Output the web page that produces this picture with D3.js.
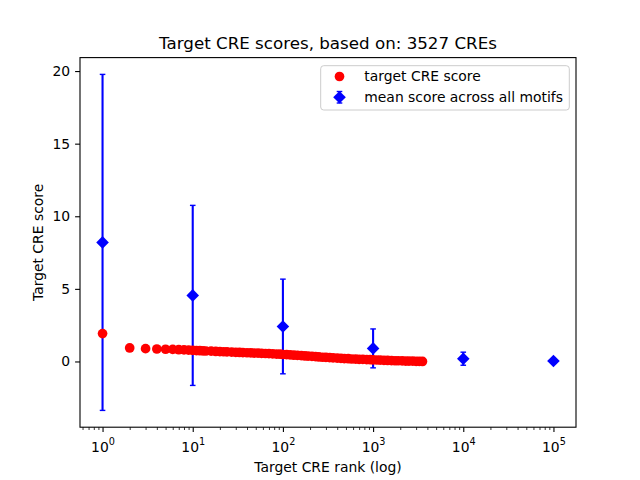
<!DOCTYPE html>
<html>
<head>
<meta charset="utf-8">
<script src="https://cdn.jsdelivr.net/npm/d3@7"></script>
<style>
  body { margin: 0; background: #fff; }
  text { font-family: "DejaVu Sans", sans-serif; fill: #000; }
</style>
</head>
<body>
<div id="chart"></div>
<script>
var svgWidth = 640;
var svgHeight = 480;

// target CRE score per rank
var ranks = [1, 2, 3, 4, 5, 6, 7, 8, 9, 10, 11, 12, 13, 14, 16, 18, 20, 22, 24, 27,
  30, 33, 36, 40, 44, 48, 53, 58, 64, 70, 77, 85, 93, 100, 110, 120, 132, 145, 160,
  175, 190, 210, 230, 250, 275, 300, 330, 360, 400, 440, 480, 530, 580, 640, 700,
  770, 850, 930, 1000, 1100, 1200, 1320, 1450, 1600, 1750, 1900, 2100, 2300, 2500,
  2750, 3000, 3250, 3527];
var scores = [1.92, 0.93, 0.88, 0.86, 0.84, 0.83, 0.81, 0.80, 0.78, 0.76, 0.75, 0.74,
  0.73, 0.72, 0.71, 0.69, 0.68, 0.67, 0.66, 0.65, 0.63, 0.62, 0.61, 0.60, 0.59, 0.58,
  0.57, 0.56, 0.55, 0.54, 0.52, 0.51, 0.50, 0.48, 0.47, 0.45, 0.43, 0.42, 0.40, 0.38,
  0.37, 0.35, 0.33, 0.31, 0.29, 0.28, 0.26, 0.25, 0.23, 0.21, 0.20, 0.19, 0.17, 0.16,
  0.15, 0.14, 0.13, 0.12, 0.11, 0.10, 0.09, 0.08, 0.07, 0.06, 0.05, 0.05, 0.04, 0.03,
  0.03, 0.02, 0.01, 0.01, 0.00];

// mean score across all motifs, with error
var meanRanks = [1, 10, 100, 1000, 10000, 100000];
var meanScores = [8.2, 4.55, 2.41, 0.9, 0.19, 0.03];
var meanErrors = [11.57, 6.2, 3.26, 1.34, 0.45, 0.05];

var xTicks = [1, 10, 100, 1000, 10000, 100000];
var yTicks = [0, 5, 10, 15, 20];

var margin = { top: 57.6, right: 64, bottom: 52.8, left: 80 };
var width = svgWidth - margin.left - margin.right;
var height = svgHeight - margin.top - margin.bottom;

var svg = d3.select("#chart")
  .append("svg")
  .attr("width", svgWidth)
  .attr("height", svgHeight);

var chartGroup = svg.append("g")
  .attr("transform", `translate(${margin.left}, ${margin.top})`);

// matplotlib style 5% padding
var lx0 = Math.log10(d3.min(meanRanks)), lx1 = Math.log10(d3.max(meanRanks));
var padX = (lx1 - lx0) * 0.05;
var xScale = d3.scaleLog()
  .domain([Math.pow(10, lx0 - padX), Math.pow(10, lx1 + padX)])
  .range([0, width]);

var yMin = d3.min(meanScores.map((d, i) => d - meanErrors[i]));
var yMax = d3.max(meanScores.map((d, i) => d + meanErrors[i]));
var padY = (yMax - yMin) * 0.05;
var yScale = d3.scaleLinear()
  .domain([yMin - padY, yMax + padY])
  .range([height, 0]);

// minor ticks
var minorTicks = [];
for (var k = -1; k <= 5; k++) {
  for (var m = 2; m <= 9; m++) {
    var v = m * Math.pow(10, k);
    if (v >= xScale.domain()[0] && v <= xScale.domain()[1]) minorTicks.push(v);
  }
}

chartGroup.append("g")
  .attr("transform", `translate(0, ${height})`)
  .call(d3.axisBottom(xScale).tickValues(minorTicks).tickSize(2.8).tickFormat(""))
  .call(g => g.select(".domain").remove())
  .call(g => g.selectAll("line").attr("stroke-width", 0.8));

var bottomAxis = chartGroup.append("g")
  .attr("transform", `translate(0, ${height})`)
  .call(d3.axisBottom(xScale).tickValues(xTicks).tickSize(4.9).tickSizeOuter(0));
bottomAxis.select(".domain").remove();
bottomAxis.selectAll("line").attr("stroke-width", 1.1);
bottomAxis.selectAll(".tick text").each(function(d) {
  var t = d3.select(this);
  t.text(null).attr("dy", null).attr("y", 24.8).attr("font-size", "13.9px");
  t.append("tspan").text("10");
  t.append("tspan").text(Math.round(Math.log10(d)))
    .attr("font-size", "9.7px").attr("dy", "-7.2");
});

var leftAxis = chartGroup.append("g")
  .call(d3.axisLeft(yScale).tickValues(yTicks).tickSize(4.9).tickPadding(4.9));
leftAxis.select(".domain").remove();
leftAxis.selectAll("line").attr("stroke-width", 1.1);
leftAxis.selectAll(".tick text").attr("font-size", "13.9px").attr("font-family", "DejaVu Sans");

// error bars
var errGroup = chartGroup.append("g");
meanRanks.forEach(function(r, i) {
  var x = xScale(r);
  var y0 = yScale(meanScores[i] - meanErrors[i]);
  var y1 = yScale(meanScores[i] + meanErrors[i]);
  errGroup.append("line").attr("x1", x).attr("x2", x).attr("y1", y0).attr("y2", y1)
    .attr("stroke", "#0000ff").attr("stroke-width", 2.1);
  [y0, y1].forEach(function(yc) {
    errGroup.append("line").attr("x1", x - 2.8).attr("x2", x + 2.8)
      .attr("y1", yc).attr("y2", yc)
      .attr("stroke", "#0000ff").attr("stroke-width", 1.4);
  });
});

var diamond = "M0,-6.3L6.3,0L0,6.3L-6.3,0Z";
errGroup.selectAll(".mean")
  .data(meanRanks)
  .enter()
  .append("path")
  .attr("d", diamond)
  .attr("transform", (d, i) => `translate(${xScale(d)}, ${yScale(meanScores[i])})`)
  .attr("fill", "#0000ff");

chartGroup.selectAll(".dot")
  .data(ranks)
  .enter()
  .append("circle")
  .attr("cx", d => xScale(d))
  .attr("cy", (d, i) => yScale(scores[i]))
  .attr("r", 4.85)
  .attr("fill", "#ff0000");

// frame
chartGroup.append("rect")
  .attr("width", width).attr("height", height)
  .attr("fill", "none").attr("stroke", "#000").attr("stroke-width", 1.1);

// labels
svg.append("text")
  .attr("x", margin.left + width / 2).attr("y", 49.3)
  .attr("text-anchor", "middle").attr("font-size", "16.7px")
  .text("Target CRE scores, based on: 3527 CREs");

svg.append("text")
  .attr("x", margin.left + width / 2).attr("y", 472.4)
  .attr("text-anchor", "middle").attr("font-size", "13.9px")
  .text("Target CRE rank (log)");

svg.append("text")
  .attr("transform", "rotate(-90)")
  .attr("x", -(margin.top + height / 2)).attr("y", 43.3)
  .attr("text-anchor", "middle").attr("font-size", "13.9px")
  .text("Target CRE score");

// legend
var legend = svg.append("g");
legend.append("rect")
  .attr("x", 320.7).attr("y", 65.7).attr("width", 248.6).attr("height", 44.3)
  .attr("rx", 3).attr("fill", "#fff").attr("fill-opacity", 0.8)
  .attr("stroke", "#cccccc").attr("stroke-width", 1);
legend.append("circle").attr("cx", 339.5).attr("cy", 76.5).attr("r", 4.85).attr("fill", "#ff0000");
legend.append("line").attr("x1", 339.5).attr("x2", 339.5).attr("y1", 91.5).attr("y2", 103)
  .attr("stroke", "#0000ff").attr("stroke-width", 2.1);
[91.5, 103].forEach(function(yc) {
  legend.append("line").attr("x1", 336.7).attr("x2", 342.3).attr("y1", yc).attr("y2", yc)
    .attr("stroke", "#0000ff").attr("stroke-width", 1.4);
});
legend.append("path").attr("d", diamond)
  .attr("transform", "translate(339.5, 97.2)").attr("fill", "#0000ff");
legend.append("text").attr("x", 364.3).attr("y", 80.8).attr("font-size", "13.9px")
  .text("target CRE score");
legend.append("text").attr("x", 364.3).attr("y", 101.6).attr("font-size", "13.9px")
  .text("mean score across all motifs");
</script>
</body>
</html>
